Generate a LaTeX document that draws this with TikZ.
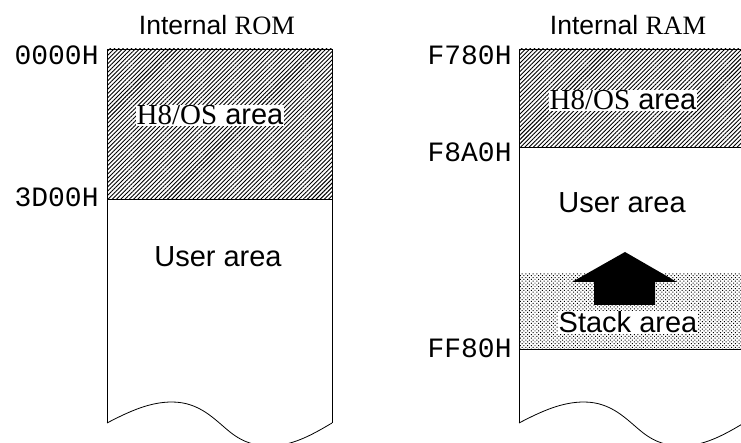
\documentclass[tikz,border=0pt]{standalone}
\usepackage{fontspec}
\setmainfont{Liberation Sans}
\newfontfamily\serifpart{Liberation Serif}
\newfontfamily\addrfont{Liberation Mono}
\usetikzlibrary{patterns.meta}

\tikzset{
  addr/.style={anchor=base east, inner sep=0pt, font=\addrfont\fontsize{28}{30}\selectfont},
  maptitle/.style={anchor=base, inner sep=0pt, font=\fontsize{26.5}{30}\selectfont},
  arealabel/.style={anchor=base, inner sep=1pt, font=\fontsize{29}{32}\selectfont},
  oshatch/.style={pattern={Lines[angle=45,distance=3pt,line width=0.9pt]}},
  stackdots/.style={pattern={Dots[angle=45,distance=2.6pt,radius=0.7pt]}}
}

\begin{document}
\begin{tikzpicture}[x=1pt,y=-1pt,line width=0.8pt]
   \useasboundingbox (0,0) rectangle (741,443);
   \clip (0,0) rectangle (741,443);
   % internal ROM
   \coordinate (rom ul) at (107,49);
   \coordinate (rom ur) at (332,49);
   \coordinate (rom ml) at (107,199);
   \coordinate (rom mr) at (332,199);
   \coordinate (rom ll) at (107,423);
   \coordinate (rom lr) at (332,423);
   \fill [oshatch] (rom ul) rectangle (rom mr);
   \draw (rom ml) -- (rom mr);
   \draw (rom ll) -- (rom ul) -- (rom ur) -- (rom lr);
   \draw (rom ll) .. controls +(23,-12) and +(-22,0) .. +(65,-21)
      .. controls +(28,0) and +(-15,-12) .. +(123,9)
      .. controls +(15,12) and +(-14,0) .. +(165,23)
      .. controls +(23,-1) and +(-17,10) .. (rom lr);
   \node [maptitle] (romtitle) at (217,35) {Internal {\serifpart ROM}};
   \node [addr] (rom0000) at (99,65) {0000H};
   \node [addr] (rom3d00) at (99,207) {3D00H};
   \node [arealabel, fill=white] (romos) at (210,125) {{\serifpart H8/OS} area};
   \node [arealabel] (romuser) at (218,267) {User area};

   % internal RAM
   \coordinate (ram ul) at (519,49);
   \coordinate (ram ur) at (744,49);
   \coordinate (ram ml) at (519,147);
   \coordinate (ram mr) at (744,147);
   \coordinate (ram sl) at (519,274);
   \coordinate (ram el) at (519,349);
   \coordinate (ram er) at (744,349);
   \coordinate (ram ll) at (519,423);
   \coordinate (ram lr) at (744,423);
   \fill [oshatch] (ram ul) rectangle (ram mr);
   \fill [stackdots] (ram sl) rectangle (ram er);
   \draw (ram ml) -- (ram mr);
   \draw (ram el) -- (ram er);
   \draw (ram ll) -- (ram ul) -- (ram ur) -- (ram lr);
   \draw (ram ll) .. controls +(23,-12) and +(-22,0) .. +(65,-21)
      .. controls +(28,0) and +(-15,-12) .. +(123,9)
      .. controls +(15,12) and +(-14,0) .. +(165,23)
      .. controls +(23,-1) and +(-17,10) .. (ram lr);
   \fill (594,305) -- (594,282) -- (572,282) -- (625,252) -- (677,282)
      -- (655,282) -- (655,305) -- cycle;
   \node [maptitle] (ramtitle) at (628,35) {Internal {\serifpart RAM}};
   \node [addr] (ramf780) at (512,65) {F780H};
   \node [addr] (ramf8a0) at (512,162) {F8A0H};
   \node [addr] (ramff80) at (512,357) {FF80H};
   \node [arealabel, fill=white] (ramos) at (623,110) {{\serifpart H8/OS} area};
   \node [arealabel] (ramuser) at (622,213) {User area};
   \node [arealabel, fill=white] (ramstack) at (628,333) {Stack area};
\end{tikzpicture}
\end{document}
